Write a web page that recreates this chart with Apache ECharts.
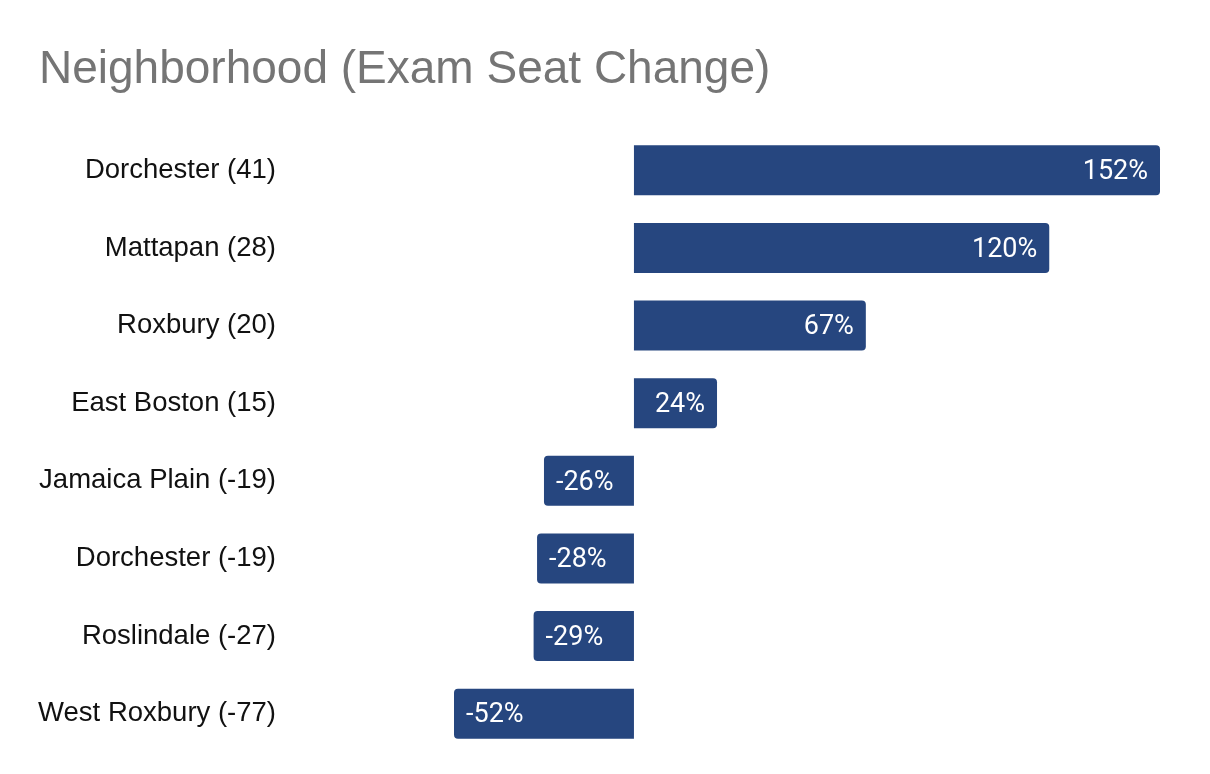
<!DOCTYPE html>
<html>
<head>
<meta charset="utf-8">
<script src="https://cdn.jsdelivr.net/npm/echarts@6/dist/echarts.min.js"></script>
<style>html,body{margin:0;padding:0;background:#fff;}#c{width:1210px;height:774px;}</style>
</head>
<body>
<div id="c"></div>
<script>
var categories = ["Dorchester (41)", "Mattapan (28)", "Roxbury (20)", "East Boston (15)", "Jamaica Plain (-19)", "Dorchester (-19)", "Roslindale (-27)", "West Roxbury (-77)"];
var values = [152, 120, 67, 24, -26, -28, -29, -52];
var titleText = "Neighborhood (Exam Seat Change)";

var data = values.map(function (v) {
  var pos = v >= 0;
  return {
    value: v,
    itemStyle: { borderRadius: pos ? [0, 4, 4, 0] : [4, 0, 0, 4] },
    label: { position: pos ? 'insideRight' : 'insideLeft' }
  };
});

var chart = echarts.init(document.getElementById('c'), null, { renderer: 'canvas' });
chart.setOption({
  animation: false,
  backgroundColor: '#ffffff',
  title: {
    text: titleText,
    left: 34, top: 42,
    textStyle: { fontFamily: '"Liberation Sans", Arial, sans-serif', fontSize: 46, fontWeight: 'normal', color: '#757575' }
  },
  grid: { left: 454, right: 50, top: 131.5, height: 621 },
  xAxis: {
    type: 'value', min: -52, max: 152, show: false,
    splitLine: { show: false }
  },
  yAxis: {
    type: 'category', data: categories, inverse: true,
    axisLine: { show: false }, axisTick: { show: false },
    axisLabel: { margin: 178, padding: [4, 0, 0, 0], fontFamily: '"Liberation Sans", Arial, sans-serif', fontSize: 27.5, color: '#111111' }
  },
  series: [{
    type: 'bar',
    data: data,
    barWidth: 50,
    itemStyle: { color: '#26467f' },
    label: {
      show: true, distance: 12, offset: [0, 2],
      formatter: function (p) { return p.value + '%'; },
      fontFamily: 'Roboto, sans-serif', fontSize: 27, color: '#ffffff'
    }
  }]
});
</script>
</body>
</html>
